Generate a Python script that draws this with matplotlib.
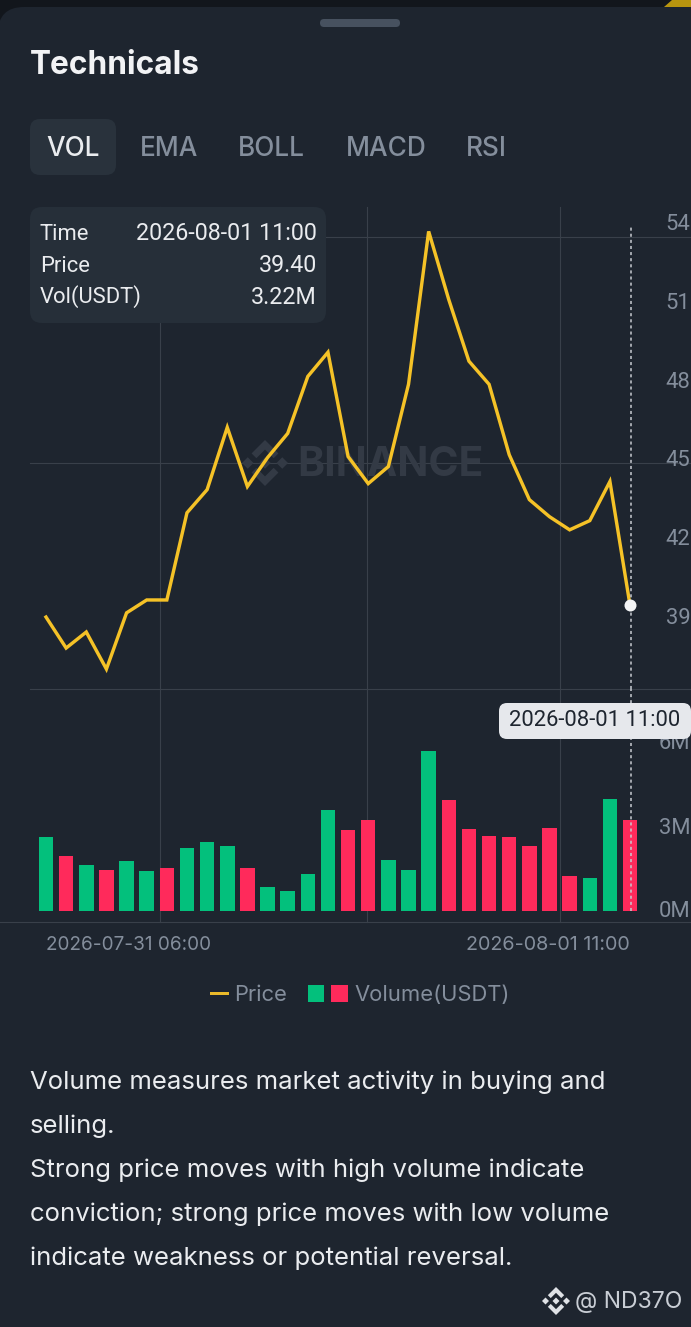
import matplotlib
matplotlib.use("Agg")
import matplotlib.pyplot as plt
from matplotlib.patches import FancyBboxPatch, Polygon, Patch
from matplotlib.lines import Line2D
from matplotlib.legend_handler import HandlerTuple, HandlerLine2D
from matplotlib.transforms import ScaledTranslation

# ---------- data ----------
times = ["2026-07-31 06:00", "2026-08-01 11:00"]
price = [38.96, 37.78, 38.39, 36.98, 39.12, 39.61, 39.61, 42.93, 43.81, 46.18,
         43.93, 45.03, 45.95, 48.12, 49.04, 45.07, 44.04, 44.69, 47.82, 53.64,
         51.04, 48.70, 47.82, 45.14, 43.43, 42.78, 42.28, 42.63, 44.12, 39.40]
volume = [2.60, 1.95, 1.62, 1.45, 1.77, 1.41, 1.52, 2.22, 2.44, 2.30,
          1.52, 0.85, 0.71, 1.31, 3.57, 2.86, 3.22, 1.80, 1.45, 5.65,
          3.92, 2.90, 2.65, 2.60, 2.30, 2.93, 1.24, 1.17, 3.96, 3.22]
up = [1, 0, 1, 0, 1, 1, 0, 1, 1, 1,
      0, 1, 1, 1, 1, 0, 0, 1, 1, 1,
      0, 0, 0, 0, 0, 0, 0, 1, 1, 0]
price_ticks = [39, 42, 45, 48, 51, 54]
vol_ticks = [0, 3, 6]
tabs = ["VOL", "EMA", "BOLL", "MACD", "RSI"]
tab_x = [46, 140, 238, 346, 466]
tooltip_rows = [("Time", "2026-08-01 11:00"), ("Price", "39.40"), ("Vol(USDT)", "3.22M")]
body = ["Volume measures market activity in buying and",
        "selling.",
        "Strong price moves with high volume indicate",
        "conviction; strong price moves with low volume",
        "indicate weakness or potential reversal."]

# ---------- style ----------
W, H = 691, 1327
BG = "#1e252f"; OUT = "#12161c"; GRID = "#39404a"; MUTED = "#848e9c"; LIGHT = "#eaecef"
GOLD = "#f5c227"; GREEN = "#03c07c"; RED = "#ff2a5b"
MAIN = "Inter"; NUM = "Roboto"
px = 72 / 100  # points per pixel at dpi 100

fig = plt.figure(figsize=(W / 100, H / 100), dpi=100, facecolor=OUT)

def pixel_axes(z):
    a = fig.add_axes([0, 0, 1, 1], zorder=z)
    a.set_xlim(0, W); a.set_ylim(H, 0); a.axis("off"); a.patch.set_alpha(0)
    return a

def pixel_rect(ax, x0, y0, x1, y1, r, **kw):
    p = FancyBboxPatch((x0 + r, y0 + r), x1 - x0 - 2 * r, y1 - y0 - 2 * r,
                       boxstyle=f"round,pad={r},rounding_size={r}", linewidth=0, **kw)
    ax.add_patch(p)
    return p

def logo(ax, cx, cy, r, color, z=2):
    s = r / 24
    def P(pts):
        ax.add_patch(Polygon([(cx + a * s, cy + b * s) for a, b in pts], closed=True,
                             fc=color, ec="none", zorder=z))
    P([(0, -6), (6, 0), (0, 6), (-6, 0)])
    P([(-24, 0), (-18, -6), (-12, 0), (-18, 6)])
    P([(24, 0), (18, -6), (12, 0), (18, 6)])
    P([(0, -24), (14, -10), (9, -5), (0, -14), (-9, -5), (-14, -10)])
    P([(0, 24), (14, 10), (9, 5), (0, 14), (-9, 5), (-14, 10)])

# ---------- back layer ----------
back = pixel_axes(0)
back.add_patch(Polygon([(664, 7), (672, 0), (691, 0), (691, 7)], fc="#b8950f", ec="none"))
pixel_rect(back, -2, 7, W + 60, H + 60, 26, fc=BG, zorder=1)
pixel_rect(back, 320, 19, 400, 27, 4, fc="#47515f", zorder=2)
back.text(30, 66, "Technicals", color="#f2f3f5", fontsize=31.6 * px, family=MAIN,
          fontweight="bold", va="center", ha="left")
pixel_rect(back, 30, 119, 116, 175, 10, fc="#29323c", zorder=2)
for i, (t, x) in enumerate(zip(tabs, tab_x)):
    back.text(x, 149, t, color=LIGHT if i == 0 else MUTED, fontsize=26.2 * px, family=MAIN,
              fontweight="medium", va="center", ha="left", zorder=3)
for y in [237, 463]:
    back.plot([30, W], [y, y], color=GRID, lw=0.8, zorder=2)
back.plot([30, W], [689, 689], color=GRID, lw=0.8, zorder=2)
back.plot([0, W], [922, 922], color=GRID, lw=0.8, zorder=2)
for x in [160, 367, 560]:
    back.plot([x, x], [207, 922], color=GRID, lw=0.8, zorder=2)
logo(back, 265, 463, 23, "#333a45", z=3)
back.text(297, 465, "BINANCE", color="#333a45", fontsize=40.8 * px, family=MAIN,
          fontweight="bold", va="center", ha="left", zorder=3)
for y, t in zip([1082, 1126, 1170, 1214, 1258], body):
    back.text(30, y, t, color=LIGHT, fontsize=25.73 * px, family=MAIN, va="center", ha="left", zorder=3)
logo(back, 556, 1301, 14, "#dfe2e6", z=3)
back.text(682, 1302, "@ ND37O", color="#c9ced5", fontsize=23 * px, family=MAIN,
          va="center", ha="right", zorder=3)

# ---------- chart axes ----------
n = len(price)
x_vals = list(range(n))
x0_px, dx_px = 46.0, 20.14
xlim = (-x0_px / dx_px, (W - x0_px) / dx_px)

ax_p = fig.add_axes([0, 1 - 689 / H, 1, (689 - 207) / H], zorder=2)
ax_v = fig.add_axes([0, 1 - 922 / H, 1, (922 - 689) / H], zorder=2)
for a in (ax_p, ax_v):
    a.patch.set_alpha(0)
    a.set_xlim(*xlim)
    for s in a.spines.values():
        s.set_visible(False)

# price y: 39 at px 616, 26.27 px per unit
ax_p.set_ylim(39 + (616 - 689) / 26.27, 39 + (616 - 207) / 26.27)
ax_p.plot(x_vals, price, color=GOLD, lw=3.4 * px, solid_joinstyle="miter", zorder=3)
ax_p.plot(x_vals[-1], price[-1], "o", ms=12 * px, mfc="#f4f5f6", mec="none", zorder=5)
ax_p.set_xticks([])
ax_p.yaxis.tick_right()
ax_p.set_yticks(price_ticks, [str(v) for v in price_ticks])
ax_p.tick_params(axis="y", length=0, pad=-0.5, colors=MUTED, labelsize=22 * px)
for l in ax_p.get_yticklabels():
    l.set_ha("right"); l.set_family(NUM)

# volume y: 0 at px 911, 28.3 px per unit
ax_v.set_ylim((911 - 922) / 28.3, (911 - 689) / 28.3)
ax_v.bar(x_vals, volume, width=0.72, color=[GREEN if u else RED for u in up], zorder=3)
ax_v.yaxis.tick_right()
ax_v.set_yticks(vol_ticks, [f"{v}M" for v in vol_ticks])
ax_v.tick_params(axis="y", length=0, pad=-0.5, colors=MUTED, labelsize=22 * px)
for l in ax_v.get_yticklabels():
    l.set_ha("right"); l.set_family(NUM)
off = ScaledTranslation(0, 2 / 100, fig.dpi_scale_trans)
zero = ax_v.get_yticklabels()[0]
zero.set_transform(zero.get_transform() + off)
ax_v.set_xticks([0, n - 1], times)
ax_v.tick_params(axis="x", length=0, pad=10, colors=MUTED, labelsize=19 * px)
xl = ax_v.get_xticklabels()
xl[0].set_ha("left"); xl[1].set_ha("right")
xl[1].set_fontsize(19.8 * px)
for l in xl:
    l.set_family(MAIN)

# crosshair
cross = dict(color="#c8ccd2", lw=1.1, ls=(0, (2, 2)), zorder=4)
ax_p.axvline(x_vals[-1] + 0.05, ymin=0, ymax=(689 - 227) / (689 - 207), **cross)
ax_v.axvline(x_vals[-1] + 0.05, ymin=(922 - 911) / (922 - 689), ymax=1, **cross)

# ---------- legend ----------
h_line = Line2D([0], [0], color="#eab92a", lw=3 * px)
h_vol = (Patch(fc=GREEN, ec="none"), Patch(fc=RED, ec="none"))
fs = 22 * px
leg = fig.legend([h_line, h_vol], ["Price", "Volume(USDT)"], ncol=2, loc="center",
                 bbox_to_anchor=(348.5 / W, 1 - 995 / H), frameon=False, fontsize=fs,
                 labelcolor=MUTED, handlelength=40 / 22, handleheight=17 / 22,
                 handletextpad=7 / 22, columnspacing=21 / 22, borderpad=0, borderaxespad=0,
                 prop={"family": MAIN, "size": fs},
                 handler_map={Line2D: HandlerLine2D(marker_pad=0, numpoints=2, xpad=24 / 22),
                              tuple: HandlerTuple(ndivide=None, pad=7 / 22)})

# ---------- front layer ----------
front = pixel_axes(4)
pixel_rect(front, 30, 207, 326, 323, 12, fc="#262f39", zorder=2)
for y, (k, v) in zip([234, 266, 297], tooltip_rows):
    front.text(40, y, k, color=LIGHT, fontsize=22 * px, family=NUM, va="center", ha="left", zorder=3)
    front.text(317, y, v, color=LIGHT, fontsize=23.3 * px, family=NUM, va="center", ha="right", zorder=3)
pixel_rect(front, 499, 703, 691, 739, 8, fc="#e6e8ec", zorder=2)
front.text(594.5, 720, times[1], color="#1e252f", fontsize=22 * px, family=NUM,
           va="center", ha="center", zorder=3)

fig.savefig("out.png", dpi=100, facecolor=OUT)
